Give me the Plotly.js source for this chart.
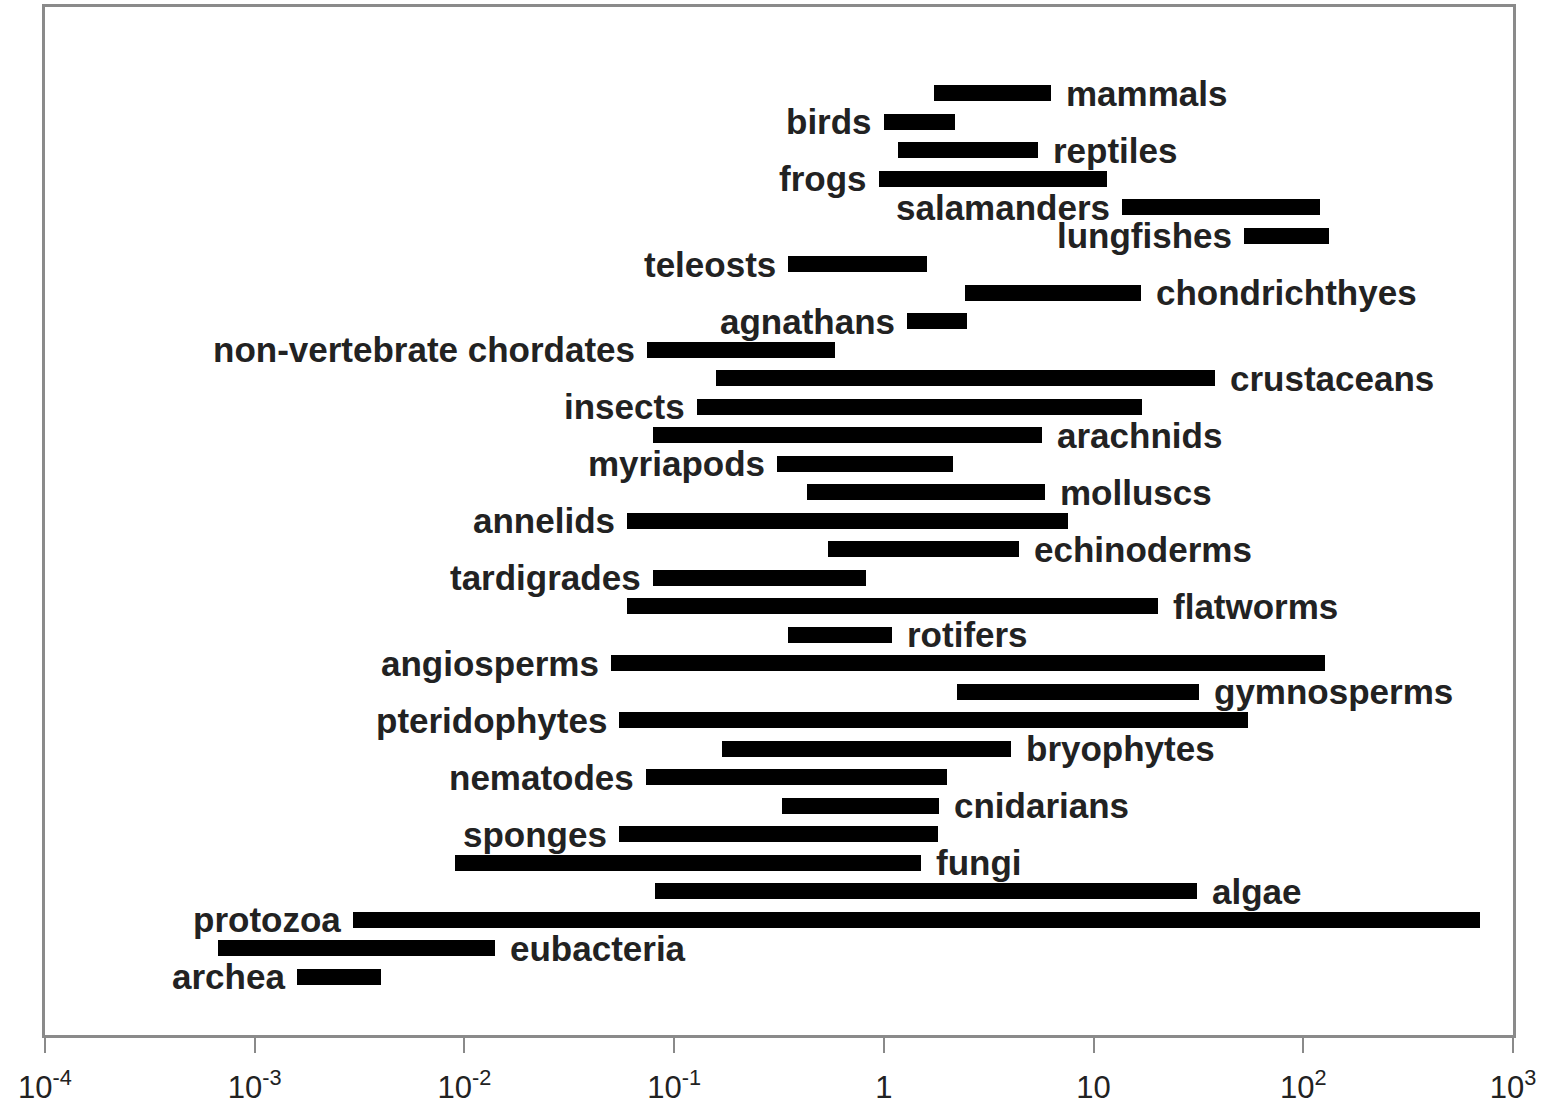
<!DOCTYPE html>
<html>
<head>
<meta charset="utf-8">
<script src="https://cdn.plot.ly/plotly-3.0.1.min.js"></script>
<style>
  html, body { margin: 0; padding: 0; background: #ffffff; }
  #chart { width: 1551px; height: 1112px; }
</style>
</head>
<body>
<div id="chart"></div>
<script>
// Groups from bottom (archea) to top (mammals)
const groups = [
  "archea", "eubacteria", "protozoa", "algae", "fungi", "sponges", "cnidarians",
  "nematodes", "bryophytes", "pteridophytes", "gymnosperms", "angiosperms",
  "rotifers", "flatworms", "tardigrades", "echinoderms", "annelids", "molluscs",
  "myriapods", "arachnids", "insects", "crustaceans", "non-vertebrate chordates",
  "agnathans", "chondrichthyes", "teleosts", "lungfishes", "salamanders",
  "frogs", "reptiles", "birds", "mammals"
];
// Lower end of each range
const rangeMin = [
  0.00159, 0.000668, 0.00294, 0.0811, 0.00901, 0.0546, 0.327,
  0.0735, 0.169, 0.0546, 2.23, 0.050,
  0.349, 0.0595, 0.0792, 0.542, 0.0595, 0.431,
  0.310, 0.0792, 0.128, 0.158, 0.0743,
  1.29, 2.44, 0.349, 52.2, 13.7,
  0.95, 1.17, 1.00, 1.73
];
// Upper end of each range
const rangeMax = [
  0.0040, 0.0140, 697, 31.2, 1.50, 1.81, 1.83,
  2.00, 4.04, 54.5, 31.8, 127,
  1.09, 20.3, 0.822, 4.41, 7.56, 5.87,
  2.14, 5.68, 17.0, 38.0, 0.585,
  2.49, 16.8, 1.61, 133, 120,
  11.6, 5.44, 2.19, 6.27
];
// Which side of the bar the name is written on
const labelSide = [
  "L", "R", "L", "R", "R", "L", "R",
  "L", "R", "L", "R", "L",
  "R", "R", "L", "R", "L", "R",
  "L", "R", "L", "R", "L",
  "L", "R", "L", "L", "L",
  "L", "R", "L", "R"
];
const tickValues = [1e-4, 1e-3, 1e-2, 1e-1, 1, 10, 100, 1000];
const tickLabels = ["10<sup>-4</sup>", "10<sup>-3</sup>", "10<sup>-2</sup>", "10<sup>-1</sup>",
                    "1", "10", "10<sup>2</sup>", "10<sup>3</sup>"];

const idx = groups.map((g, i) => i);

const barTrace = {
  type: "bar",
  orientation: "h",
  y: idx,
  base: rangeMin,
  x: rangeMax.map((v, i) => v - rangeMin[i]),
  width: 0.56,
  marker: { color: "#000000", line: { width: 0 } },
  hovertext: groups,
  hoverinfo: "text",
  showlegend: false
};

const labelFont = { family: "Liberation Sans, Arial, sans-serif", size: 35, color: "#222222" };

const annotations = groups.map((g, i) => {
  const right = labelSide[i] === "R";
  return {
    x: Math.log10(right ? rangeMax[i] : rangeMin[i]),
    y: i,
    xref: "x", yref: "y",
    text: "<b>" + g + "</b>",
    showarrow: false,
    xanchor: right ? "left" : "right",
    yanchor: "middle",
    xshift: right ? 13 : -10,
    font: labelFont
  };
});

const layout = {
  width: 1551,
  height: 1112,
  margin: { l: 45, r: 38, t: 7, b: 77 },
  paper_bgcolor: "#ffffff",
  plot_bgcolor: "#ffffff",
  showlegend: false,
  bargap: 0,
  xaxis: {
    type: "log",
    range: [-4, 3],
    tickmode: "array",
    tickvals: tickValues,
    ticktext: tickLabels,
    ticks: "outside",
    ticklen: 15,
    tickwidth: 2,
    tickcolor: "#8a8a8a",
    ticklabelstandoff: 8,
    showgrid: false,
    zeroline: false,
    showline: true,
    linecolor: "#8a8a8a",
    linewidth: 3,
    mirror: true,
    tickfont: { family: "Liberation Sans, Arial, sans-serif", size: 31, color: "#222222" },
    fixedrange: true
  },
  yaxis: {
    range: [-2.04, 34.02],
    showticklabels: false,
    ticks: "",
    showgrid: false,
    zeroline: false,
    showline: true,
    linecolor: "#8a8a8a",
    linewidth: 3,
    mirror: true,
    fixedrange: true
  },
  annotations: annotations
};

Plotly.newPlot("chart", [barTrace], layout, { displayModeBar: false, staticPlot: true });
</script>
</body>
</html>
